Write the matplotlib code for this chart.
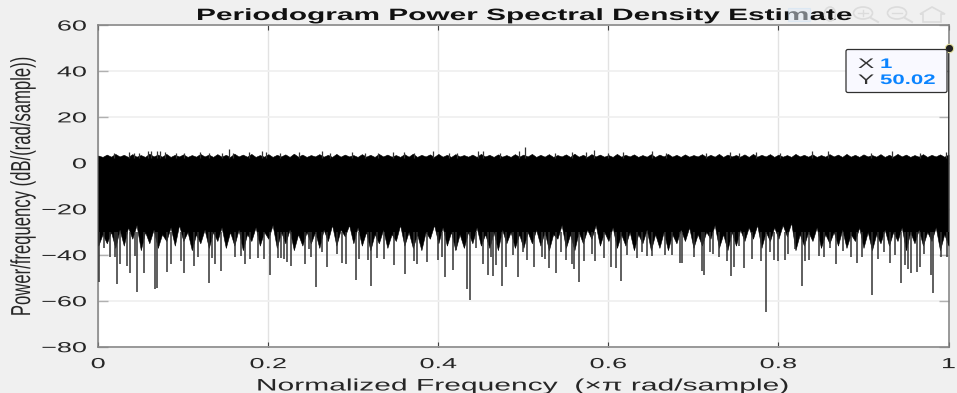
import numpy as np
import matplotlib
matplotlib.use("Agg")
import matplotlib.pyplot as plt
from matplotlib.patches import Ellipse, FancyBboxPatch, Rectangle, Polygon
from matplotlib.lines import Line2D
from matplotlib.patheffects import AbstractPathEffect
from matplotlib.transforms import Affine2D

plt.rcParams['font.family'] = ['Liberation Sans', 'DejaVu Sans']

# long downward spikes below the black band
spike_freq = [0.0004, 0.0067, 0.0134, 0.0192, 0.0224, 0.0251, 0.0341, 0.0369, 0.0428, 0.0459, 0.0537, 0.0663, 0.0694,
              0.0812, 0.0859, 0.0976, 0.1008, 0.1121, 0.1172, 0.1298, 0.1337, 0.1376, 0.1447, 0.1604, 0.1674, 0.1721,
              0.1788, 0.1878, 0.1945, 0.2015, 0.2109, 0.2145, 0.2184, 0.2223, 0.2270, 0.2435, 0.2474,
              0.2499, 0.2558, 0.2628, 0.2691, 0.2805, 0.2867, 0.2910, 0.3036, 0.3071, 0.3169, 0.3208, 0.3275, 0.3361,
              0.3479, 0.3608, 0.3714, 0.3753, 0.3871, 0.3992, 0.4047, 0.4075, 0.4173, 0.4204, 0.4333, 0.4373, 0.4439,
              0.4522, 0.4580, 0.4624, 0.4643, 0.4678, 0.4753, 0.4796, 0.4874, 0.4937, 0.5000,
              0.5045, 0.5120, 0.5214, 0.5253, 0.5300, 0.5379, 0.5437, 0.5500, 0.5567, 0.5598, 0.5653, 0.5708, 0.5802,
              0.5845, 0.5947, 0.6029, 0.6092, 0.6147, 0.6214, 0.6331, 0.6390, 0.6453, 0.6508, 0.6664, 0.6743, 0.6841,
              0.6868, 0.7005, 0.7096, 0.7123, 0.7194, 0.7233, 0.7303, 0.7398, 0.7441, 0.7476, 0.7535,
              0.7595, 0.7689, 0.7791, 0.7850, 0.7905, 0.7944, 0.7991, 0.8073, 0.8112, 0.8191, 0.8281, 0.8316, 0.8355,
              0.8473, 0.8532, 0.8602, 0.8677, 0.8759, 0.8857, 0.8924, 0.8983, 0.9100, 0.9171, 0.9237, 0.9308, 0.9371,
              0.9437, 0.9492, 0.9524, 0.9555, 0.9626, 0.9661, 0.9708, 0.9790, 0.9822, 0.9916, 0.9982]
spike_low = [-52, -37, -41, -41, -52.6, -44, -45, -48, -40.5, -56, -48, -54.7, -54.3,
             -47.6, -44, -42.6, -48, -45, -41, -52.3, -41.4, -44, -47, -41, -40.5, -44,
             -42, -41.4, -42, -48.7, -41.4, -41.4, -42, -43, -45, -44, -37.5,
             -41, -54, -39, -45.4, -39.7, -43.7, -44, -50.9, -41.9, -42.3, -53.7, -41.4, -41.9,
             -44.4, -48.3, -42.6, -44, -43.3, -42.3, -41.1, -49.7, -46.6, -38, -55.1, -59.7, -36.9,
             -44, -48.7, -41.1, -49.3, -44.4, -53.7, -45.4, -40, -49.7, -39,
             -42.3, -45.1, -41.1, -41.9, -45.7, -47.9, -39, -42.3, -44, -46.1, -51.9, -42.9, -39.7,
             -42.6, -41.4, -45.4, -45.7, -51.6, -40, -41.4, -39, -40.7, -40.4, -40, -40, -43.7,
             -43.6, -40.9, -47.1, -48.6, -39, -39.7, -41.1, -42.9, -49.4, -45.4, -36,
             -45.9, -41.9, -42.6, -65.1, -39, -42.3, -42.9, -42.3, -39.7, -37.6, -53.7, -42.9, -42.3,
             -40.4, -40.9, -37.1, -44, -38.3, -40.9, -43.6, -41.1, -57.6, -41.9, -39, -43.7, -40,
             -52.1, -44.4, -46.1, -48, -47.3, -45.1, -39.7, -48.7, -56.6, -40.9, -40.9]

# small peaks above the black band
peak_freq = [0.018, 0.0358, 0.0417, 0.0483, 0.0585, 0.0624, 0.069, 0.073, 0.079, 0.091, 0.101, 0.120, 0.130, 0.146,
             0.154, 0.159, 0.177, 0.192, 0.197, 0.214, 0.236, 0.263, 0.273, 0.298, 0.314, 0.329, 0.347, 0.359, 0.371,
             0.394, 0.412, 0.422, 0.447, 0.452, 0.472, 0.495, 0.5018, 0.537, 0.557, 0.574, 0.583, 0.600, 0.617, 0.651,
             0.668, 0.715, 0.743, 0.753, 0.774, 0.802, 0.839, 0.858, 0.909, 0.933, 0.966, 0.997]
peak_high = [4.4, 4.6, 4.5, 4.4, 5, 5.3, 5.1, 5.1, 4.9, 4.5, 4.2, 4.9, 4.3, 4.5,
             6.2, 4.5, 4.9, 5.2, 4.9, 4.2, 4.6, 5, 4.3, 4.8, 4.4, 4.4, 4.6, 4.6, 4.4,
             5.2, 4.5, 4.5, 5.3, 5.3, 4.2, 5, 6.7, 4.5, 4.7, 4.6, 5.7, 4.2, 4.8, 5,
             4.4, 4.5, 4.6, 4.5, 4.7, 4.5, 5, 5.1, 4.4, 5.1, 4.4, 4.6]

# edges of the solid band, read every 0.005
band_freq = np.linspace(0, 1, 201)
band_low = [-36, -31, -35, -30, -37, -29, -36, -28, -33, -27, -38, -30, -35, -29, -37, -31, -34, -28, -36, -27,
            -34, -30, -38, -31, -35, -29, -37, -30, -34, -28, -37, -30, -36, -29, -38, -31, -34, -28, -36, -30,
            -33, -27, -37, -30, -35, -29, -38, -31, -36, -30, -35, -30, -37, -29, -34, -27, -36, -29, -32, -27,
            -35, -28, -36, -30, -38, -31, -35, -29, -37, -31, -34, -27, -36, -30, -37, -31, -38, -30, -33, -27,
            -35, -28, -36, -30, -38, -31, -37, -30, -35, -28, -36, -31, -37, -30, -38, -29, -35, -30, -37, -31,
            -37, -30, -35, -29, -36, -30, -38, -31, -33, -27, -37, -31, -38, -30, -35, -29, -33, -27, -36, -30,
            -34, -28, -37, -31, -36, -30, -38, -31, -35, -29, -38, -31, -37, -30, -38, -31, -35, -29, -34, -28,
            -37, -31, -36, -30, -33, -27, -37, -31, -38, -30, -36, -29, -34, -28, -33, -27, -37, -30, -34, -28,
            -33, -27, -32, -26, -38, -31, -36, -30, -34, -28, -37, -31, -35, -30, -36, -29, -37, -31, -34, -28,
            -37, -30, -38, -31, -35, -29, -36, -30, -34, -28, -38, -30, -35, -29, -36, -30, -34, -28, -38, -31,
            -36]
band_high = [3.2, 2.6, 3.6, 2.7, 3.9, 2.8, 3.5, 2.6, 3.8, 2.7, 3.4, 2.6, 4.0, 2.8, 3.6, 2.7, 3.9, 2.6, 3.5, 2.8,
             3.7, 2.6, 3.4, 2.7, 3.9, 2.8, 3.6, 2.6, 3.8, 2.7, 3.5, 2.6, 4.0, 2.8, 3.6, 2.7, 3.9, 2.6, 3.4, 2.7,
             3.8, 2.6, 3.5, 2.8, 3.7, 2.6, 4.0, 2.7, 3.6, 2.6, 3.4, 2.8, 3.8, 2.7, 3.5, 2.6, 3.9, 2.7, 3.6, 2.8,
             3.4, 2.6, 3.8, 2.7, 3.5, 2.6, 3.9, 2.8, 3.6, 2.7, 3.4, 2.6, 3.8, 2.7, 4.0, 2.6, 3.5, 2.8, 3.7, 2.6,
             3.9, 2.7, 3.5, 2.6, 3.8, 2.8, 3.4, 2.7, 3.6, 2.6, 3.9, 2.8, 3.5, 2.6, 3.7, 2.7, 3.4, 2.6, 3.8, 2.7,
             3.6, 2.8, 3.9, 2.6, 3.5, 2.7, 3.8, 2.6, 3.4, 2.8, 3.7, 2.6, 4.0, 2.7, 3.5, 2.6, 3.8, 2.8, 3.6, 2.7,
             3.4, 2.6, 3.9, 2.7, 3.5, 2.8, 3.7, 2.6, 3.4, 2.7, 3.8, 2.6, 3.6, 2.8, 3.9, 2.7, 3.5, 2.6, 3.7, 2.7,
             3.4, 2.8, 3.8, 2.6, 3.5, 2.7, 3.9, 2.6, 3.6, 2.8, 3.4, 2.7, 3.7, 2.6, 3.9, 2.7, 3.5, 2.8, 3.8, 2.6,
             3.6, 2.7, 3.4, 2.6, 3.9, 2.8, 3.5, 2.7, 3.7, 2.6, 3.4, 2.7, 3.8, 2.8, 3.6, 2.6, 3.9, 2.7, 3.5, 2.6,
             3.7, 2.8, 3.4, 2.7, 3.8, 2.6, 3.5, 2.7, 3.9, 2.8, 3.6, 2.6, 3.4, 2.7, 3.8, 2.6, 3.5, 2.8, 3.7, 2.7,
             3.6]

tip_x = 1
tip_y = 50.02

x_ticks = [0, 0.2, 0.4, 0.6, 0.8, 1]
x_labels = ['0', '0.2', '0.4', '0.6', '0.8', '1']
y_ticks = [-80, -60, -40, -20, 0, 20, 40, 60]

W, H = 957, 393
BG = '#f0f0f0'
TEXT = '#262626'
BLUE = '#0a84ff'


class Stretch(AbstractPathEffect):
    # the original screenshot is pulled sideways, so widen glyphs about the text anchor
    def __init__(self, text, sx=1.8):
        super().__init__()
        self.text = text
        self.sx = sx

    def draw_path(self, renderer, gc, tpath, affine, rgbFace=None):
        cx = self.text.get_transform().transform(self.text.get_position())[0]
        wide = Affine2D().translate(-cx, 0).scale(self.sx, 1).translate(cx, 0)
        renderer.draw_path(gc, tpath, affine + wide, rgbFace)


def wide(text, sx=1.8):
    text.set_path_effects([Stretch(text, sx)])
    return text


def fx(x):
    return x / W


def fy(y):
    return 1 - y / H


fig = plt.figure(figsize=(W / 100, H / 100), dpi=100, facecolor=BG)
ax = fig.add_axes([fx(98.3), fy(346.7), fx(948.5 - 98.3), (346.7 - 25) / H], zorder=1)

ax.fill_between(band_freq, band_low, band_high, color='black', lw=0.4, zorder=3)
ax.vlines(spike_freq, -30, spike_low, color='#333333', lw=1.1, zorder=3)
ax.vlines(peak_freq, 2, peak_high, color='#333333', lw=0.9, zorder=3)
ax.vlines(tip_x, -30, tip_y, color='#333333', lw=1.3, zorder=4)
ax.plot([tip_x], [tip_y], 'o', ms=6, mfc='#222222', mec='#e8e4a0', mew=0.8, clip_on=False, zorder=6)

ax.set_xlim(0, 1)
ax.set_ylim(-80, 60)
ax.set_xticks(x_ticks, x_labels)
ax.set_yticks(y_ticks)
ax.grid(True, axis='x', color='#e2e2e2', lw=1)
ax.grid(True, axis='y', color='#f0f0f0', lw=1.3)
ax.set_axisbelow(True)
ax.tick_params(axis='x', which='major', direction='in', top=True, length=3.5, width=0.8, color='#404040',
               labelsize=10.5, labelcolor=TEXT, pad=7.5)
ax.tick_params(axis='y', which='major', direction='in', right=True, length=7, width=1, color='#b0b0b0',
               labelsize=10.5, labelcolor=TEXT, pad=8)
for spine in ax.spines.values():
    spine.set_color('#808080')
    spine.set_linewidth(1.1)

for label in ax.get_xticklabels() + ax.get_yticklabels():
    wide(label, 1.85)

title = ax.set_title('Periodogram Power Spectral Density Estimate', fontsize=11.8, fontweight='bold', color='#111111', pad=3.6)
wide(title, 1.82)
xlab = ax.set_xlabel('Normalized Frequency  (\u00d7\u03c0 rad/sample)', fontsize=12, color=TEXT)
ax.xaxis.set_label_coords(0.5, (346.7 - 378.5) / (346.7 - 25))
wide(xlab)
ylab = ax.set_ylabel('Power/frequency (dB/(rad/sample))', fontsize=12, color=TEXT)
ax.yaxis.set_label_coords((35 - 98.3) / 850.2, 0.5)
wide(ylab, 1.65)

# data tip
box = FancyBboxPatch((fx(846), fy(92.5)), fx(101), 43 / H, boxstyle='round,pad=0,rounding_size=0.002',
                     transform=fig.transFigure, fc='#f9f9ff', ec='#303030', lw=0.9, zorder=8, mutation_aspect=2.4)
fig.add_artist(box)
for label, value, base in [('X', f'{tip_x}', 68), ('Y', f'{tip_y:.2f}', 84)]:
    wide(fig.text(fx(858), fy(base), label, fontsize=10, color='#333333', zorder=9), 1.75)
    wide(fig.text(fx(880), fy(base), value, fontsize=10, fontweight='bold', color=BLUE, zorder=9), 1.6)

# faded figure toolbar, lying over the title
ICON = '#dcdcdc'
fig.add_artist(Rectangle((fx(788), fy(21)), fx(22), 13 / H, fc='#dfeaf5', ec='#cfe3f5', lw=0.8, alpha=0.5, zorder=2))
fig.add_artist(Ellipse((fx(830), fy(14)), fx(11), 14 / H, fc='none', ec=ICON, lw=1.2, zorder=2))
for cx in (863, 897):
    fig.add_artist(Ellipse((fx(cx), fy(13)), fx(19), 12 / H, fc='none', ec=ICON, lw=1.2, zorder=2))
    fig.add_artist(Line2D([fx(cx + 8), fx(cx + 15)], [fy(18), fy(22)], color=ICON, lw=1.4, zorder=2))
    fig.add_artist(Line2D([fx(cx - 5), fx(cx + 5)], [fy(13), fy(13)], color=ICON, lw=1, zorder=2))
fig.add_artist(Line2D([fx(863), fx(863)], [fy(10), fy(16)], color=ICON, lw=1, zorder=2))
fig.add_artist(Polygon([(fx(920), fy(14)), (fx(932), fy(7)), (fx(945), fy(14)), (fx(941), fy(14)), (fx(941), fy(22)),
                        (fx(923), fy(22)), (fx(923), fy(14))], closed=True, fc='none', ec=ICON, lw=1.2, zorder=2))

fig.savefig('out.png', dpi=100, facecolor=BG)
